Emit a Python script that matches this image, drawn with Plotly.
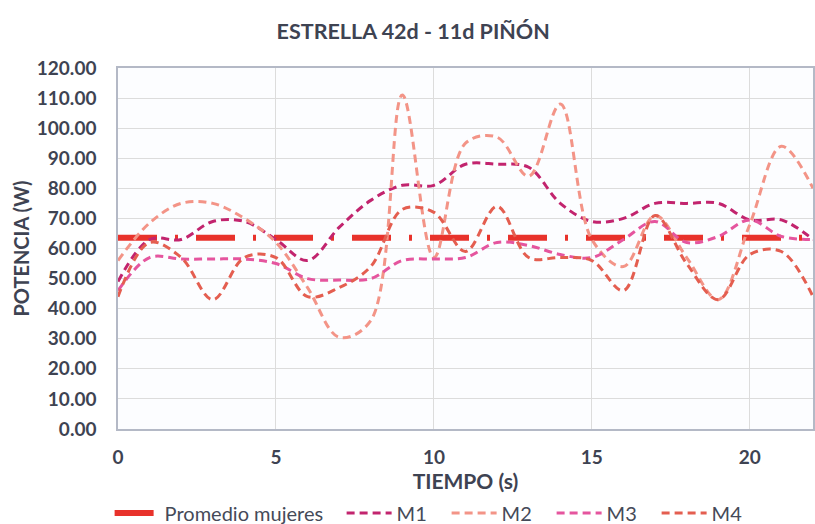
import plotly.graph_objects as go

tiempo = list(range(0, 23))
promedio = [63.6] * 23
m1 = [49, 63, 63, 69, 69, 63, 56, 67, 76, 81, 81, 88, 88, 87, 75, 69, 70, 75, 75, 75, 69.5, 69.5, 63]
m2 = [56, 68.5, 75, 75, 70, 62, 47, 30.5, 36, 111, 57, 95, 97, 84, 108, 63, 54, 71, 57, 43, 68, 94, 80]
m3 = [46, 57, 56.5, 56.5, 56.5, 55, 50, 49.5, 50, 56, 56.5, 57, 62, 61, 58, 57, 63, 69, 62, 64, 69.5, 64, 63]
m4 = [44, 62, 57, 43, 57, 57, 44, 47, 54, 73, 72, 59, 74, 57, 57, 56, 46, 71, 55, 43, 58, 59, 44]

series = [
    ("M1", m1, "#C2246E"),
    ("M2", m2, "#F39487"),
    ("M3", m3, "#E5559E"),
    ("M4", m4, "#E45E50"),
]

fig = go.Figure()
fig.add_trace(go.Scatter(
    x=tiempo, y=promedio, name="Promedio mujeres", mode="lines", legendwidth=172,
    line=dict(color="#E8322B", width=6, dash="39px,18px,3px,18px"),
))
for name, vals, col in series:
    fig.add_trace(go.Scatter(
        x=tiempo, y=vals, name=name, mode="lines", legendwidth=45,
        line=dict(color=col, width=3, dash="8px,5px", shape="spline", smoothing=1.0),
    ))

fnt = "Lato, Roboto, sans-serif"
txt = "#3E4352"
fig.update_layout(
    width=815, height=524,
    margin=dict(l=118, r=2, t=68, b=95, autoexpand=False),
    paper_bgcolor="white",
    plot_bgcolor="#FCFDFF",
    font=dict(family=fnt, color=txt, size=13),
    title=dict(text="<b>ESTRELLA 42d - 11d PIÑÓN</b>", x=0.507, xanchor="center",
               y=0.939, yanchor="middle", automargin=False,
               font=dict(size=21.5, color=txt, family=fnt)),
    showlegend=True,
    legend=dict(orientation="h", x=0.457, xanchor="center", y=-0.233, yanchor="middle",
                font=dict(size=20, color="#454A58", family=fnt), itemwidth=45,
                bgcolor="rgba(0,0,0,0)"),
)
fig.update_xaxes(
    range=[0, 22], tickvals=[0, 5, 10, 15, 20], automargin=False,
    showgrid=True, gridcolor="#DCDCDC", gridwidth=1,
    showline=True, linecolor="#B4B9C6", linewidth=1.5, mirror=True,
    ticks="outside", ticklen=10, tickcolor="rgba(0,0,0,0)",
    tickfont=dict(size=19, family=fnt, color=txt, weight="bold"),
    title=dict(text="<b>TIEMPO (s)</b>", font=dict(size=21, family=fnt, color=txt), standoff=0),
    zeroline=False,
)
fig.update_yaxes(
    range=[0, 120], tickvals=list(range(0, 121, 10)), tickformat=".2f", automargin=False,
    showgrid=True, gridcolor="#DCDCDC", gridwidth=1,
    showline=True, linecolor="#B4B9C6", linewidth=1.5, mirror=True,
    ticks="outside", ticklen=16, tickcolor="rgba(0,0,0,0)",
    tickfont=dict(size=19, family=fnt, color=txt, weight="bold"),
    title=dict(text="<b>POTENCIA (W)</b>", font=dict(size=20, family=fnt, color=txt), standoff=2),
    zeroline=False,
)

fig.write_html("out.html", config={"displayModeBar": False},
               post_script="document.body.style.margin='0';document.body.style.overflow='hidden';")
